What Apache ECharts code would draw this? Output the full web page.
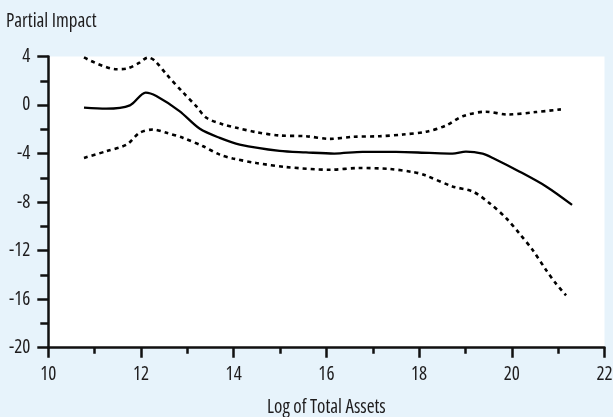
<!DOCTYPE html>
<html><head><meta charset="utf-8">
<script src="https://cdn.jsdelivr.net/npm/echarts@6/dist/echarts.min.js"></script>
<style>html,body{margin:0;padding:0;background:#e7f3fb;}#c{width:613px;height:417px;}</style>
</head><body><div id="c"></div>
<script>
var fitX = [10.77, 11.25, 11.76, 12.10, 12.33, 12.83, 13.27, 13.70, 14.13, 14.99, 15.56, 16.17, 16.78, 17.50, 18.22, 18.72, 19.01, 19.37, 19.59, 20.16, 20.74, 21.30];
var fitY = [-0.22, -0.30, -0.03, 1.02, 0.74, -0.50, -1.96, -2.71, -3.26, -3.78, -3.90, -4.00, -3.86, -3.86, -3.95, -4.00, -3.84, -4.00, -4.36, -5.47, -6.71, -8.23];
var upperX = [10.77, 11.47, 11.69, 11.97, 12.15, 12.30, 12.55, 12.91, 13.19, 13.41, 13.77, 14.06, 14.49, 14.99, 15.56, 16.07, 16.57, 17.14, 17.65, 18.15, 18.58, 18.94, 19.44, 19.91, 20.52, 21.06];
var upperY = [3.92, 2.95, 3.00, 3.50, 3.92, 3.64, 2.53, 1.02, -0.09, -1.05, -1.60, -1.88, -2.24, -2.51, -2.57, -2.79, -2.62, -2.57, -2.43, -2.20, -1.69, -0.92, -0.55, -0.78, -0.58, -0.36];
var lowerX = [10.77, 11.25, 11.69, 11.97, 12.26, 12.55, 12.91, 13.34, 13.70, 13.98, 14.49, 15.13, 16.07, 16.71, 17.36, 17.86, 18.10, 18.72, 19.16, 19.52, 19.88, 20.16, 20.45, 20.74, 20.95, 21.17];
var lowerY = [-4.36, -3.81, -3.26, -2.29, -2.02, -2.29, -2.71, -3.40, -4.09, -4.40, -4.78, -5.11, -5.33, -5.19, -5.27, -5.52, -5.74, -6.71, -7.13, -8.09, -9.33, -10.57, -11.95, -13.60, -14.70, -15.68];
var xTicks = [10, 12, 14, 16, 18, 20, 22];
var yTicks = [-20, -16, -12, -8, -4, 0, 4];

function pairs(xs, ys) { return xs.map(function (x, i) { return [x, ys[i]]; }); }
var FONT = '"Open Sans"';
var TXT = '#1e1c1d';
function ts(size) { return { fontFamily: FONT, fontStyle: 'normal', fontWeight: 'condensed', fontSize: size, color: TXT }; }
var chart = echarts.init(document.getElementById('c'));
chart.setOption({
  backgroundColor: '#e7f3fb',
  animation: false,
  title: { text: 'Partial Impact', left: 6, top: 12, padding: 0, textStyle: ts(19) },
  grid: { left: 48.3, right: 8.5, top: 56.5, bottom: 69.3, show: true, backgroundColor: '#ffffff', borderWidth: 0, containLabel: false, outerBoundsMode: 'none' },
  xAxis: {
    type: 'value', min: xTicks[0], max: xTicks[xTicks.length - 1], interval: 2,
    name: 'Log of Total Assets', nameLocation: 'middle', nameGap: 50,
    nameTextStyle: ts(19),
    axisLine: { onZero: false, lineStyle: { color: '#111', width: 2.5 } },
    axisTick: { length: 10, lineStyle: { color: '#111', width: 2.5 } },
    minorTick: { show: true, splitNumber: 2, length: 6, lineStyle: { color: '#111', width: 2.5 } },
    axisLabel: Object.assign({ margin: 17 }, ts(19)),
    splitLine: { show: false }
  },
  yAxis: {
    type: 'value', min: yTicks[0], max: yTicks[yTicks.length - 1], interval: 4,
    axisLine: { show: true, onZero: false, lineStyle: { color: '#111', width: 2.5 } },
    axisTick: { show: true, length: 11, lineStyle: { color: '#111', width: 2.5 } },
    minorTick: { show: true, splitNumber: 2, length: 8, lineStyle: { color: '#111', width: 2.5 } },
    axisLabel: Object.assign({ margin: 18 }, ts(19)),
    splitLine: { show: false }
  },
  series: [
    { type: 'line', data: pairs(fitX, fitY), smooth: 0.3, symbol: 'none', lineStyle: { color: '#000', width: 2.3 } },
    { type: 'line', data: pairs(upperX, upperY), smooth: 0.3, symbol: 'none', lineStyle: { color: '#000', width: 2.6, type: [4, 4] } },
    { type: 'line', data: pairs(lowerX, lowerY), smooth: 0.3, symbol: 'none', lineStyle: { color: '#000', width: 2.6, type: [4, 4] } }
  ]
});
</script></body></html>
